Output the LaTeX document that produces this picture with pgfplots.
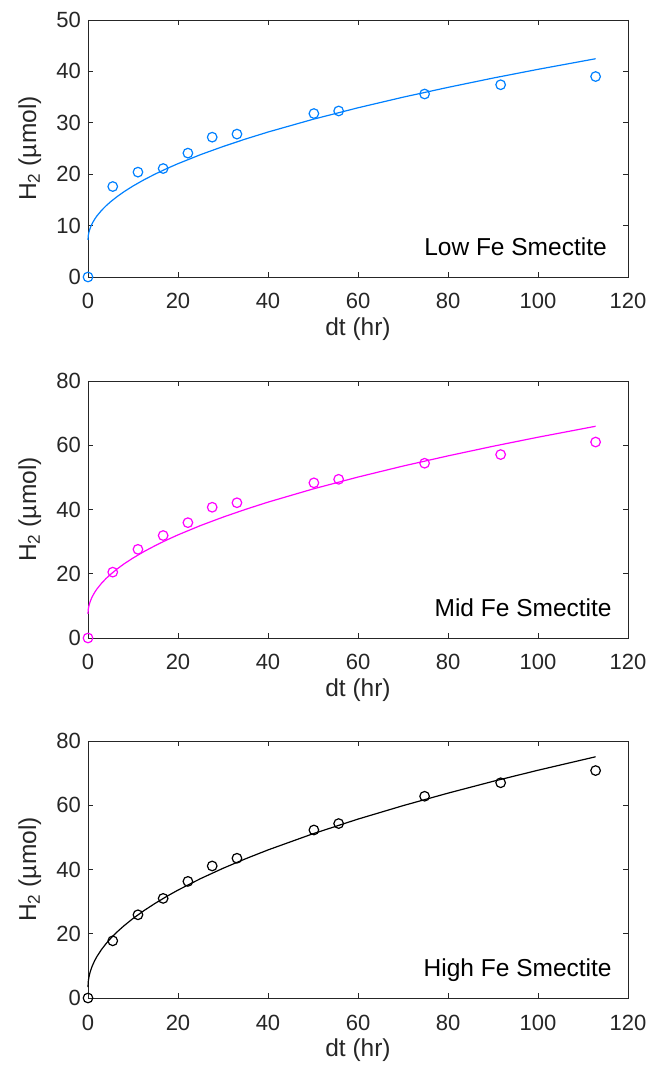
\documentclass[border=0pt]{standalone}
\usepackage{fontspec}
\setmainfont{Liberation Sans}
\usepackage{pgfplots}
\usepackage{pgfplotstable}
\pgfplotsset{compat=1.18}

\definecolor{lowblue}{rgb}{0,0.5,1}
\definecolor{midmag}{rgb}{1,0,1}
\definecolor{axgray}{gray}{0.15}

% measured H2 (umol) vs dt (hr)
\pgfplotstableread{
x     low   mid   high
0     0     0     0
5.5   17.6  20.5  17.8
11.1  20.4  27.6  25.9
16.7  21.1  31.9  31.0
22.2  24.1  35.9  36.3
27.6  27.2  40.7  41.1
33.1  27.8  42.1  43.5
50.2  31.8  48.3  52.3
55.7  32.3  49.4  54.3
74.8  35.6  54.4  62.8
91.7  37.4  57.1  67.0
112.8 39.0  61.0  70.8
}\meas

% fitted curves
\pgfplotstableread{
x     low   mid   high
0     7.20  7.50  3.40
0.05  7.94  8.73  4.91
0.1   8.25  9.24  5.53
0.2   8.68  9.96  6.42
0.35  9.16  10.75 7.39
0.5   9.55  11.39 8.17
0.75  10.08 12.26 9.25
1     10.52 13.00 10.15
1.5   11.27 14.24 11.67
2     11.90 15.28 12.95
3     12.95 17.03 15.09
4     13.84 18.50 16.90
5     14.62 19.80 18.49
6.5   15.66 21.52 20.61
8     16.59 23.06 22.49
10    17.70 24.89 24.75
12.5  18.94 26.95 27.26
15    20.06 28.80 29.54
17.5  21.09 30.51 31.64
20    22.05 32.10 33.59
25    23.80 35.00 37.15
30    25.38 37.62 40.37
35    26.84 40.04 43.33
40    28.20 42.29 46.09
50    30.68 46.39 51.13
60    32.92 50.10 55.69
70    34.98 53.52 59.87
80    36.89 56.69 63.77
90    38.70 59.68 67.44
100   40.40 62.50 70.90
112.8 42.46 65.91 75.09
}\fit

\pgfplotsset{
  smect/.style={
    scale only axis, width=540pt, height=257pt, anchor=south west,
    xmin=0, xmax=120, ymin=0,
    xtick={0,20,...,120},
    xtick pos=both, ytick pos=both,
    xticklabel pos=bottom, yticklabel pos=left,
    tick align=inside, major tick length=5.4pt,
    axis line style={axgray, line width=0.9pt},
    every tick/.style={axgray, line width=0.9pt},
    ticklabel style={font=\fontsize{22}{26}\selectfont, text=axgray},
    /pgf/number format/assume math mode=true,
    xticklabel style={anchor=base, yshift=-32pt},
    yticklabel style={xshift=-3.7pt},
    xlabel={dt (hr)},
    ylabel={H\textsubscript{2} (µmol)},
    label style={font=\fontsize{24.5}{29}\selectfont, text=axgray},
    xlabel style={at={(axis description cs:0.5,-0.226)}, anchor=base, inner sep=0pt},
    ylabel style={at={(axis description cs:-0.096,0.5)}, anchor=base, inner sep=0pt},
    clip=false,
  },
  pts/.style={only marks, mark=o, mark size=4.8pt, mark options={line width=1.2pt}},
  crv/.style={no marks, line width=1.2pt},
}

\begin{document}
\begin{tikzpicture}
\useasboundingbox (0,0) rectangle (650pt,1065pt);

\begin{axis}[smect, at={(88pt,788pt)}, ymax=50, ytick={0,10,...,50}]
\addplot[crv, lowblue] table[x=x, y=low] {\fit};
\addplot[pts, lowblue] table[x=x, y=low] {\meas};
\node[anchor=base east, font=\fontsize{24.5}{29}\selectfont, inner sep=0pt]
  at (rel axis cs:0.961,0.082) {Low Fe Smectite};
\end{axis}

\begin{axis}[smect, at={(88pt,427pt)}, ymax=80, ytick={0,20,...,80}]
\addplot[crv, midmag] table[x=x, y=mid] {\fit};
\addplot[pts, midmag] table[x=x, y=mid] {\meas};
\node[anchor=base east, font=\fontsize{24.5}{29}\selectfont, inner sep=0pt]
  at (rel axis cs:0.970,0.082) {Mid Fe Smectite};
\end{axis}

\begin{axis}[smect, at={(88pt,67pt)}, ymax=80, ytick={0,20,...,80}]
\addplot[crv, black] table[x=x, y=high] {\fit};
\addplot[pts, black] table[x=x, y=high] {\meas};
\node[anchor=base east, font=\fontsize{24.5}{29}\selectfont, inner sep=0pt]
  at (rel axis cs:0.970,0.082) {High Fe Smectite};
\end{axis}
\end{tikzpicture}
\end{document}
